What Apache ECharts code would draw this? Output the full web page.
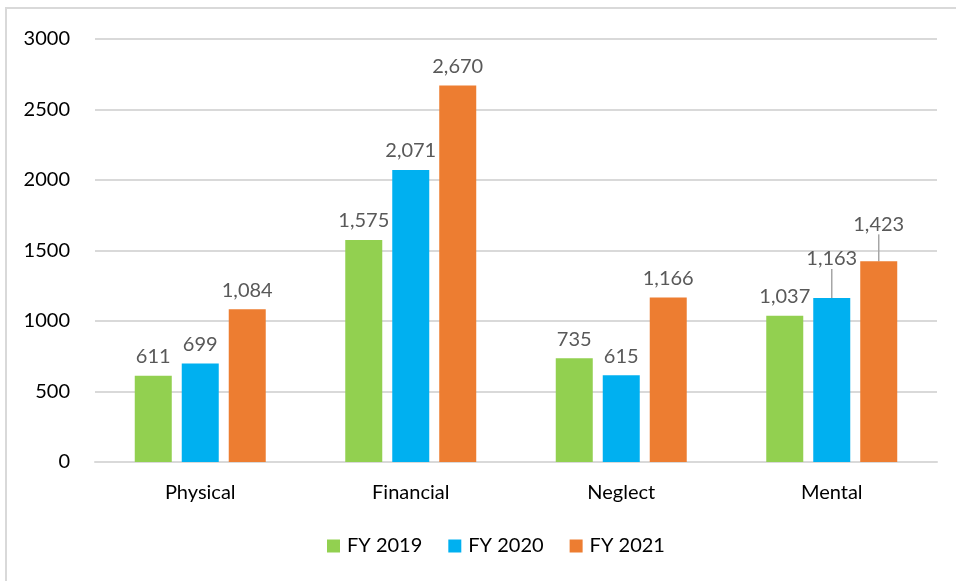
<!DOCTYPE html>
<html>
<head>
<meta charset="utf-8">
<script src="https://cdn.jsdelivr.net/npm/echarts@6/dist/echarts.min.js"></script>
<style>
html, body { margin: 0; padding: 0; background: #fff; }
#chart { width: 956px; height: 581px; }
</style>
</head>
<body>
<div id="chart"></div>
<script>
var categories = ['Physical', 'Financial', 'Neglect', 'Mental'];
var seriesNames = ['FY 2019', 'FY 2020', 'FY 2021'];
var fy2019 = [611, 1575, 735, 1037];
var fy2020 = [699, 2071, 615, 1163];
var fy2021 = [1084, 2670, 1166, 1423];
var colors = ['#92d050', '#00b0f0', '#ed7d31'];

var font = 'Lato, "Open Sans", sans-serif';

function fmt(v) {
    return v.toLocaleString('en-US');
}

function makeSeries(name, data, color, lift) {
    // only the lifted Mental label gets a leader line
    var items = data.map(function (v, i) {
        if (lift && i === 3) {
            return { value: v, labelLine: { show: true } };
        }
        return v;
    });
    return {
        name: name,
        type: 'bar',
        data: items,
        barWidth: 37,
        barGap: '27%',
        itemStyle: { color: color },
        label: {
            show: true,
            position: 'top',
            distance: 9,
            color: '#595959',
            fontSize: 20,
            fontFamily: font,
            formatter: function (p) { return fmt(p.value); }
        },
        labelLine: {
            show: false,
            lineStyle: { color: '#a6a6a6', width: 1.5 }
        },
        labelLayout: function (params) {
            if (lift && params.dataIndex === 3) {
                return { dy: -lift };
            }
            return {};
        }
    };
}

var myChart = echarts.init(document.getElementById('chart'));
var option = {
    animation: false,
    color: colors,
    graphic: [
        {
            type: 'rect',
            shape: { x: 6, y: 8, width: 1200, height: 1200 },
            style: { fill: 'none', stroke: '#d9d9d9', lineWidth: 2 },
            silent: true
        }
    ],
    grid: {
        left: 95,
        right: 19,
        top: 39,
        bottom: 119,
        containLabel: false
    },
    legend: {
        bottom: 20,
        left: 322,
        itemWidth: 13,
        itemHeight: 13,
        itemGap: 26,
        icon: 'rect',
        data: seriesNames,
        textStyle: { fontSize: 20, color: '#000', fontFamily: font, padding: [0, 0, 0, 2] }
    },
    xAxis: {
        type: 'category',
        data: categories,
        axisLine: { show: true, lineStyle: { color: '#d9d9d9', width: 2 } },
        axisTick: { show: false },
        axisLabel: { color: '#000', fontSize: 20, fontFamily: font, margin: 21 }
    },
    yAxis: {
        type: 'value',
        min: 0,
        max: 3000,
        interval: 500,
        axisLine: { show: false },
        axisTick: { show: false },
        splitLine: { lineStyle: { color: '#d9d9d9', width: 2 } },
        axisLabel: {
            color: '#000',
            fontSize: 20,
            fontFamily: font,
            margin: 25,
            formatter: function (v) { return String(v); }
        }
    },
    series: [
        makeSeries(seriesNames[0], fy2019, colors[0], 0),
        makeSeries(seriesNames[1], fy2020, colors[1], 20),
        makeSeries(seriesNames[2], fy2021, colors[2], 18)
    ]
};
myChart.setOption(option);
</script>
</body>
</html>
